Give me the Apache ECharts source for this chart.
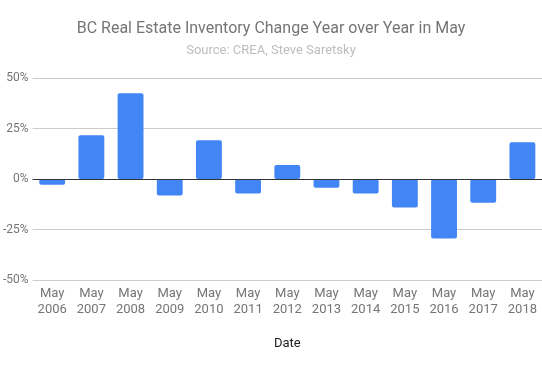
<!DOCTYPE html>
<html><head><meta charset="utf-8">
<script src="https://cdn.jsdelivr.net/npm/echarts@6/dist/echarts.min.js"></script>
<style>html,body{margin:0;padding:0;background:#fff}#c{width:542px;height:367px}</style>
</head><body><div id="c"></div>
<script>
const categories = ['May\n2006','May\n2007','May\n2008','May\n2009','May\n2010','May\n2011','May\n2012','May\n2013','May\n2014','May\n2015','May\n2016','May\n2017','May\n2018'];
const values = [-2.8, 21.7, 42.4, -8.2, 19.2, -7.2, 6.9, -4.3, -7.2, -14.1, -29.4, -11.7, 18.2];
const yTicks = [-50, -25, 0, 25, 50];

const chart = echarts.init(document.getElementById('c'));
chart.setOption({
  animation: false,
  textStyle: { fontFamily: 'Roboto' },
  title: {
    text: 'BC Real Estate Inventory Change Year over Year in May',
    subtext: 'Source: CREA, Steve Saretsky',
    left: 'center', top: 16, itemGap: 7,
    textStyle: { fontFamily: 'Roboto', fontSize: 16, fontWeight: 'normal', color: '#757575' },
    subtextStyle: { fontFamily: 'Roboto', fontSize: 13, color: '#bdbdbd' }
  },
  grid: { left: 30, right: 0, top: 78, bottom: 87, containLabel: false },
  xAxis: {
    type: 'category', data: categories,
    name: 'Date', nameLocation: 'middle', nameGap: 57,
    nameTextStyle: { fontFamily: 'Roboto', fontSize: 13, color: '#222' },
    axisLine: { show: false }, axisTick: { show: false },
    axisLabel: { fontFamily: 'Roboto', fontSize: 13, color: '#757575', lineHeight: 16, margin: 6, interval: 0 }
  },
  yAxis: {
    type: 'value', min: yTicks[0], max: yTicks[yTicks.length-1], interval: 25,
    axisLine: { show: false }, axisTick: { show: false },
    axisLabel: { fontFamily: 'Roboto', fontSize: 12, color: '#757575', margin: 4, formatter: v => v + '%' },
    splitLine: { lineStyle: { color: '#cccccc', width: 1 } }
  },
  series: [{
    type: 'bar', data: values, barWidth: '66%',
    itemStyle: { color: '#4285f4', borderRadius: 2 },
    markLine: {
      silent: true, symbol: 'none', label: { show: false },
      lineStyle: { color: '#333333', width: 1, type: 'solid' },
      data: [{ yAxis: 0 }]
    }
  }]
});
</script></body></html>
